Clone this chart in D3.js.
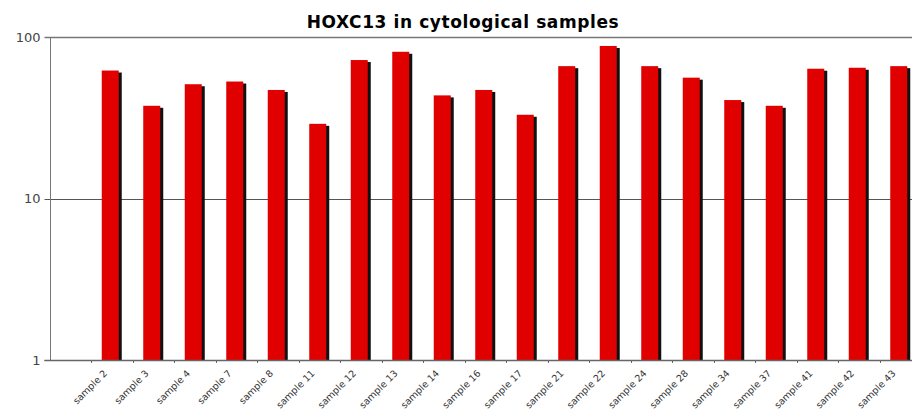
<!DOCTYPE html>
<html>
<head>
<meta charset="utf-8">
<script src="https://cdn.jsdelivr.net/npm/d3@7"></script>
<style>
  body { margin: 0; background: #fff; }
  svg { display: block; }
  .title { font-family: "DejaVu Sans", Verdana, sans-serif; font-weight: bold; font-size: 17px; letter-spacing: 0.6px; }
  .ylab { font-family: "DejaVu Sans", Tahoma, sans-serif; font-size: 13px; fill: #444; }
  .xlab { font-family: "DejaVu Sans", Tahoma, sans-serif; font-size: 9.5px; fill: #333; }
</style>
</head>
<body>
<svg width="912" height="412"></svg>
<script>
// first slot on the category axis is empty in the original chart
const samples = ["", "sample 2", "sample 3", "sample 4", "sample 7", "sample 8", "sample 11",
  "sample 12", "sample 13", "sample 14", "sample 16", "sample 17", "sample 21", "sample 22",
  "sample 24", "sample 28", "sample 34", "sample 37", "sample 41", "sample 42", "sample 43"];
const values = [null, 62, 37.5, 51, 53, 47, 29, 72, 81, 43.5, 47, 33, 66, 88, 66, 56, 40.7, 37.5, 63.6, 64.5, 66];
const yTicks = [1, 10, 100];

const svg = d3.select('svg');
const plotLeft = 49.5, plotTop = 37, plotBottom = 360;
const band = 41.5;

const x = d3.scaleBand()
  .domain(samples)
  .range([plotLeft, plotLeft + band * samples.length])
  .padding(0);

const y = d3.scaleLog()
  .domain([1, 100])
  .range([plotBottom, plotTop]);

const data = samples.map((s, i) => ({ name: s, v: values[i] }));

// gridlines
svg.append('g')
  .selectAll('line')
  .data(yTicks)
  .enter().append('line')
  .attr('x1', plotLeft - 5)
  .attr('x2', 912)
  .attr('y1', d => Math.round(y(d)) + 0.5)
  .attr('y2', d => Math.round(y(d)) + 0.5)
  .attr('stroke', d => d === 100 ? '#777' : '#555')
  .attr('stroke-width', d => d === 100 ? 1.6 : 1);

svg.append('g')
  .selectAll('text')
  .data(yTicks)
  .enter().append('text')
  .attr('class', 'ylab')
  .attr('x', plotLeft - 9)
  .attr('y', d => y(d) + 4.5)
  .attr('text-anchor', 'end')
  .text(d => d);

// bars with a dark drop shadow
const barW = 17, shadow = 3;
const bars = svg.append('g')
  .selectAll('g')
  .data(data.filter(d => d.v != null))
  .enter().append('g')
  .attr('transform', d => `translate(${x(d.name) + (x.bandwidth() - barW - shadow) / 2}, 0)`);

bars.append('rect')
  .attr('x', shadow)
  .attr('y', d => y(d.v) + 2)
  .attr('width', barW)
  .attr('height', d => plotBottom - y(d.v) - 2)
  .attr('fill', '#111');

bars.append('rect')
  .attr('x', 0)
  .attr('y', d => y(d.v))
  .attr('height', d => plotBottom - y(d.v))
  .attr('width', barW)
  .attr('fill', '#e00000');

// axes
svg.append('line')
  .attr('x1', Math.round(plotLeft) + 0.5).attr('x2', Math.round(plotLeft) + 0.5)
  .attr('y1', plotTop).attr('y2', plotBottom)
  .attr('stroke', '#777');

svg.append('line')
  .attr('x1', plotLeft - 5).attr('x2', 912)
  .attr('y1', plotBottom + 0.5).attr('y2', plotBottom + 0.5)
  .attr('stroke', '#666').attr('stroke-width', 1.5);

svg.append('g')
  .selectAll('line')
  .data(samples.slice(1))
  .enter().append('line')
  .attr('x1', d => Math.round(x(d)) + 0.5)
  .attr('x2', d => Math.round(x(d)) + 0.5)
  .attr('y1', plotBottom)
  .attr('y2', plotBottom + 3)
  .attr('stroke', '#666');

svg.append('g')
  .selectAll('text')
  .data(samples.slice(1))
  .enter().append('text')
  .attr('class', 'xlab')
  .attr('text-anchor', 'end')
  .attr('transform', d => `translate(${x(d) + x.bandwidth() / 2 - 4}, ${plotBottom + 14}) rotate(-45)`)
  .text(d => d);

svg.append('text')
  .attr('class', 'title')
  .attr('x', 463)
  .attr('y', 28)
  .attr('text-anchor', 'middle')
  .text('HOXC13 in cytological samples');
</script>
</body>
</html>
